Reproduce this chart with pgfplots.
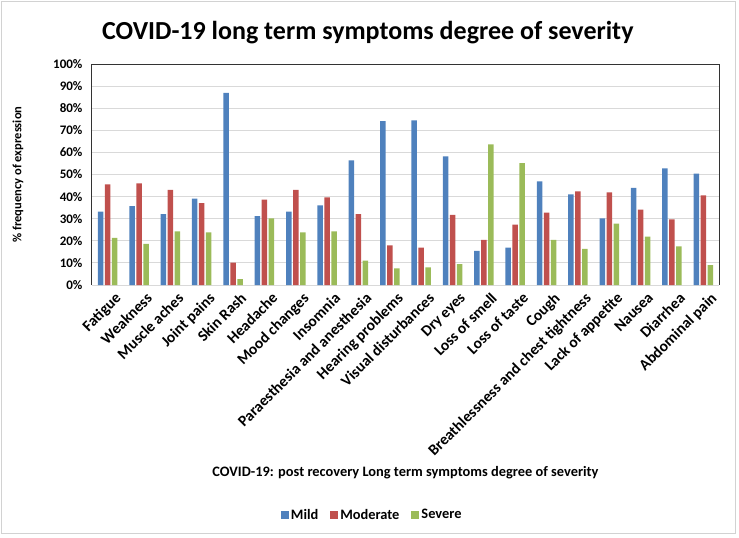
\documentclass[border=0pt]{standalone}
\usepackage{pgfplots}
\pgfplotsset{compat=1.18}
\usepackage{fontspec}
\setmainfont{Carlito}
\definecolor{cMild}{HTML}{4F81BD}
\definecolor{cMod}{HTML}{C0504D}
\definecolor{cSev}{HTML}{9BBB59}
\definecolor{gridc}{HTML}{D9D9D9}
\begin{document}
\begin{tikzpicture}
\path[use as bounding box] (-92pt,-253pt) rectangle (647pt,285pt);
\draw[gray!35, line width=1pt] (-90pt,-248pt) rectangle (643pt,283pt);
\begin{axis}[
  scale only axis,
  width=627pt, height=221pt,
  ybar=1.5pt, bar width=5.5pt,
  xmin=-0.5, xmax=19.5,
  ymin=0, ymax=100,
  xtick={0,...,19},
  xticklabels={Fatigue,Weakness,Muscle aches,Joint pains,Skin Rash,Headache,Mood changes,Insomnia,Paraesthesia and anesthesia,Hearing problems,Visual disturbances,Dry eyes,Loss of smell,Loss of taste,Cough,Breathlessness and chest tightness,Lack of appetite,Nausea,Diarrhea,Abdominal pain},
  ytick={0,10,...,100},
  yticklabels={0\%,10\%,20\%,30\%,40\%,50\%,60\%,70\%,80\%,90\%,100\%},
  major tick length=0pt,
  ymajorgrids, grid style={gridc, line width=1pt},
  axis x line*=bottom,
  axis y line*=box,
  x axis line style={gridc, line width=1pt},
  y axis line style={black!80, line width=1pt},
  xticklabel style={rotate=45, anchor=north east, inner sep=1pt, yshift=-8pt, xshift=1pt, font=\bfseries\fontsize{15.5}{16}\selectfont},
  yticklabel style={font=\bfseries\fontsize{13}{14}\selectfont, xshift=-6pt},
  ylabel={\% frequency of expression},
  ylabel style={at={(axis description cs:-0.118,0.5)}, anchor=center, font=\bfseries\fontsize{12.5}{13}\selectfont},
  xlabel={COVID-19: post recovery Long term symptoms degree of severity},
  xlabel style={at={(axis description cs:0.5,-0.85)}, anchor=center, font=\bfseries\fontsize{14.4}{15}\selectfont},
  title={COVID-19 long term symptoms degree of severity},
  title style={at={(axis description cs:0.44,1.113)}, anchor=center, font=\bfseries\fontsize{26}{28}\selectfont},
  legend style={at={(axis description cs:0.447,-1.04)}, anchor=center, draw=none, legend columns=3, font=\bfseries\fontsize{14.4}{15}\selectfont, /tikz/every even column/.append style={column sep=10pt}},
  legend image code/.code={\fill[#1] (0pt,-4pt) rectangle (8pt,4pt);},
  clip=false,
]
\addplot[fill=cMild, draw=none] coordinates {(0,33.2) (1,35.7) (2,32.1) (3,39.1) (4,86.9) (5,31.2) (6,33.2) (7,36.0) (8,56.4) (9,74.1) (10,74.5) (11,58.2) (12,15.4) (13,16.9) (14,46.9) (15,41.0) (16,30.2) (17,44.0) (18,52.8) (19,50.4)};
\addplot[fill=cMod, draw=none] coordinates {(0,45.5) (1,46.0) (2,43.0) (3,37.1) (4,10.1) (5,38.6) (6,43.0) (7,39.7) (8,32.1) (9,17.9) (10,16.9) (11,31.7) (12,20.4) (13,27.3) (14,32.7) (15,42.4) (16,41.9) (17,34.1) (18,29.7) (19,40.6)};
\addplot[fill=cSev, draw=none] coordinates {(0,21.3) (1,18.6) (2,24.3) (3,23.8) (4,2.7) (5,30.2) (6,23.8) (7,24.3) (8,11.0) (9,7.5) (10,8.0) (11,9.5) (12,63.6) (13,55.2) (14,20.4) (15,16.4) (16,27.8) (17,21.9) (18,17.5) (19,9.0)};
\legend{Mild,Moderate,Severe}
\draw[black!80, line width=1pt] (rel axis cs:0,1) -- (rel axis cs:1,1);
\end{axis}
\end{tikzpicture}
\end{document}
